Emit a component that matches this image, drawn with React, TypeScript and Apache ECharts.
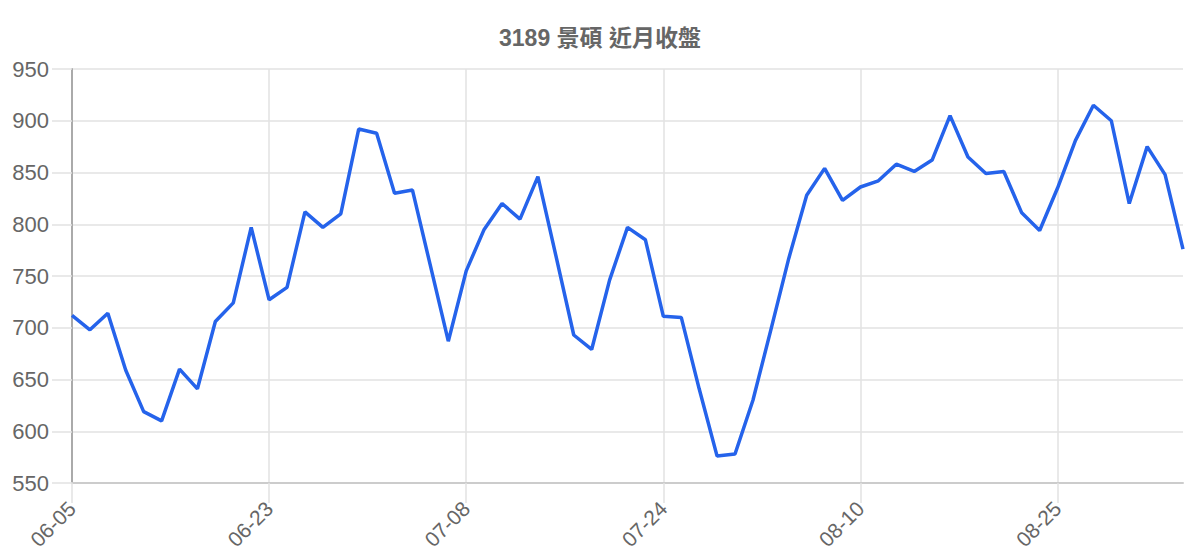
import React, { useEffect, useRef } from "react";
import * as echarts from "echarts";

const dates: string[] = [
  "06-05", "06-06", "06-09", "06-10", "06-11", "06-12", "06-13", "06-16", "06-17", "06-18", "06-20",
  "06-23", "06-24", "06-25", "06-26", "06-27", "06-30", "07-01", "07-02", "07-03", "07-04", "07-07",
  "07-08", "07-09", "07-10", "07-11", "07-14", "07-15", "07-16", "07-17", "07-18", "07-21", "07-23",
  "07-24", "07-25", "07-28", "07-29", "07-30", "07-31", "08-01", "08-04", "08-05", "08-06", "08-07",
  "08-10", "08-11", "08-12", "08-13", "08-14", "08-15", "08-18", "08-19", "08-20", "08-21", "08-22",
  "08-25", "08-26", "08-27", "08-28", "08-29", "09-01", "09-02", "09-03",
];

const closes: number[] = [
  712, 698, 714, 659, 619, 610, 660, 641, 706, 724, 797,
  727, 739, 812, 797, 810, 892, 888, 830, 833, 760, 687,
  755, 795, 820, 805, 846, 770, 693, 679, 746, 797, 785,
  711, 710, 641, 576, 578, 630, 698, 767, 828, 854, 823,
  836, 842, 858, 851, 862, 905, 865, 849, 851, 811, 794,
  835, 881, 915, 900, 820, 875, 848, 776,
];

const title = "3189 景碩 近月收盤";
const yMin = 550;
const yMax = 950;
const yStep = 50;

const FONT = "'Liberation Sans', Arial, 'Noto Sans CJK TC', sans-serif";

export default function App() {
  const ref = useRef<HTMLDivElement>(null);

  useEffect(() => {
    if (!ref.current) return;
    const chart = echarts.init(ref.current, undefined, { renderer: "svg" });
    chart.setOption({
      animation: false,
      backgroundColor: "#ffffff",
      title: {
        text: title,
        left: "center",
        top: 21,
        textStyle: {
          fontFamily: FONT,
          fontSize: 23,
          fontWeight: "bold",
          color: "#666666",
        },
      },
      grid: { left: 72, right: 17, top: 69, bottom: 77, containLabel: false },
      xAxis: {
        type: "category",
        data: dates,
        boundaryGap: false,
        axisLine: { show: true, lineStyle: { color: "#cccccc", width: 2 } },
        axisTick: {
          show: true,
          interval: 10,
          length: 20,
          lineStyle: { color: "#e2e2e2", width: 1.5 },
        },
        axisLabel: {
          interval: 10,
          rotate: 45,
          margin: 22,
          fontFamily: FONT,
          fontSize: 21,
          color: "#666666",
        },
        splitLine: {
          show: true,
          interval: 10,
          lineStyle: { color: "#e2e2e2", width: 1.5 },
        },
      },
      yAxis: {
        type: "value",
        min: yMin,
        max: yMax,
        interval: yStep,
        axisLine: { show: true, lineStyle: { color: "#aaaaaa", width: 2 } },
        axisTick: { show: true, length: 20, lineStyle: { color: "#e2e2e2", width: 1.5 } },
        axisLabel: {
          margin: 23,
          fontFamily: FONT,
          fontSize: 22,
          color: "#666666",
        },
        splitLine: { show: true, lineStyle: { color: "#e2e2e2", width: 1.5 } },
      },
      series: [
        {
          type: "line",
          data: closes,
          showSymbol: false,
          symbol: "none",
          lineStyle: { color: "#2563EB", width: 3.5 },
          itemStyle: { color: "#2563EB" },
        },
      ],
    });
    return () => chart.dispose();
  }, []);

  return (
    <div
      ref={ref}
      style={{ position: "fixed", left: 0, top: 0, width: 1200, height: 560, background: "#fff" }}
    />
  );
}
